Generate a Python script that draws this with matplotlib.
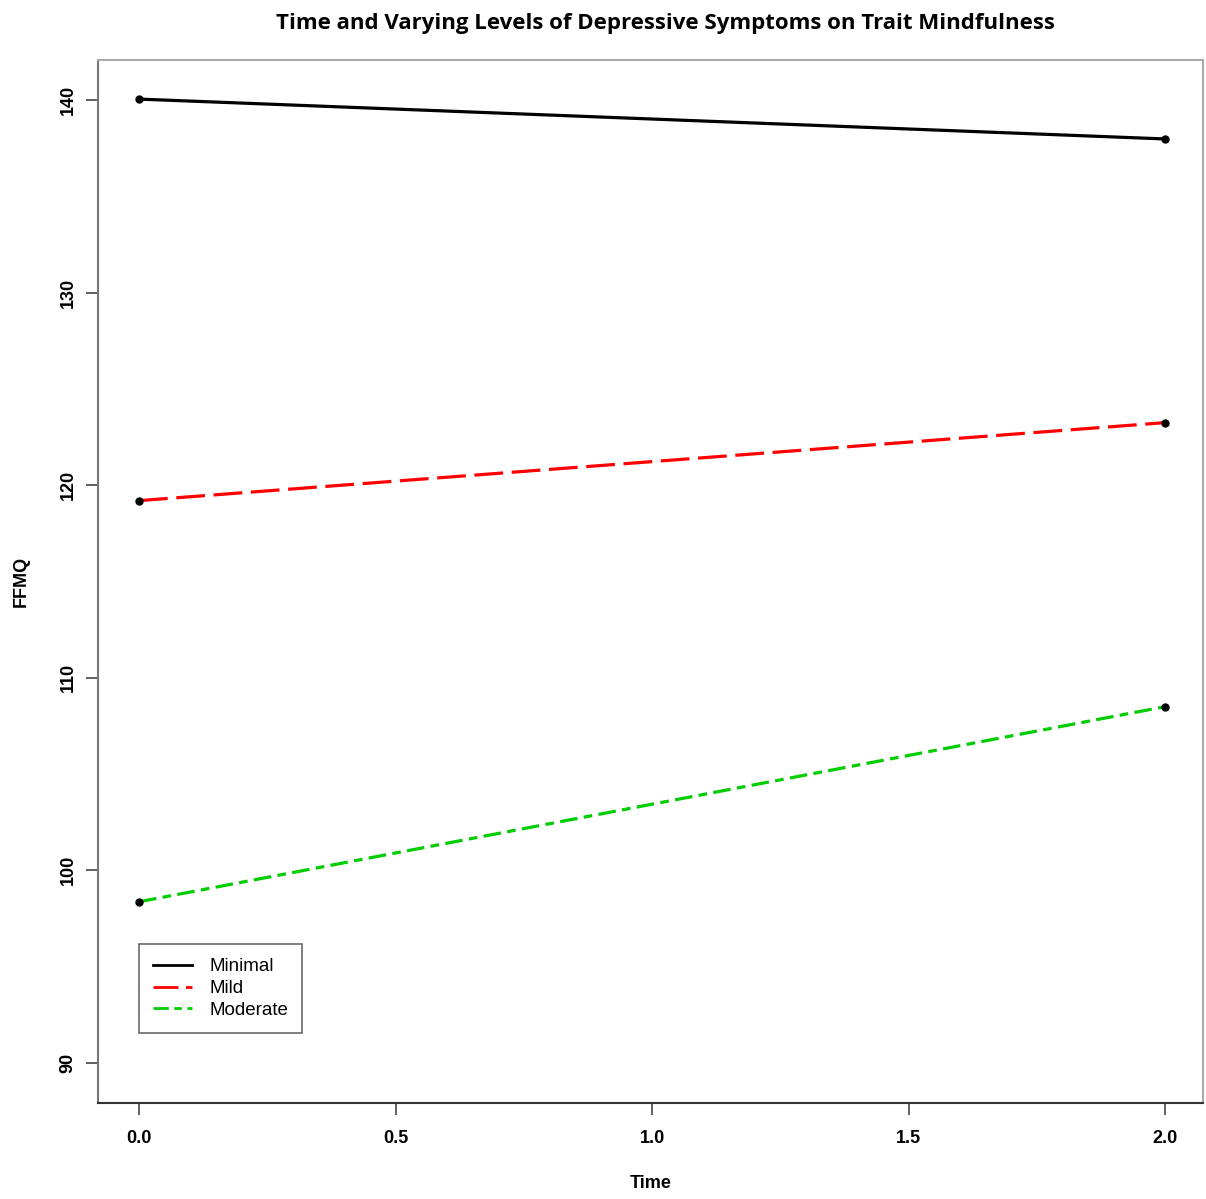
import matplotlib
matplotlib.use("Agg")
import matplotlib.pyplot as plt

time = [0, 2]
groups = ["Minimal", "Mild", "Moderate"]
ffmq = {
    "Minimal": [140.05, 137.98],
    "Mild": [119.2, 123.25],
    "Moderate": [98.37, 108.5],
}
colors = {"Minimal": "#000000", "Mild": "#ff0000", "Moderate": "#00cd00"}
styles = {"Minimal": "-", "Mild": (0, (9, 2.7)), "Moderate": (0, (5.5, 2, 2.7, 2))}
xticks = [0.0, 0.5, 1.0, 1.5, 2.0]
yticks = [90, 100, 110, 120, 130, 140]

fig = plt.figure(figsize=(12.06, 11.99), dpi=100)
ax = fig.add_axes([98/1206, 1-1103/1199, (1203-98)/1206, (1103-60)/1199])

for g in groups:
    ax.plot(time, ffmq[g], color=colors[g], linestyle=styles[g], lw=2.3, label=g)
for g in groups:
    ax.plot(time, ffmq[g], "o", color="black", ms=5, zorder=5)

ax.set_xlim(-0.08, 2.074)
ax.set_ylim(87.92, 142.08)
ax.set_xticks(xticks)
ax.set_xticklabels([f"{v:.1f}" for v in xticks])
ax.set_yticks(yticks)
ax.set_yticklabels([str(v) for v in yticks], rotation=90, va="center")
fs = 13
tickfont = dict(family="Liberation Sans", weight="bold", size=fs)
for lab in ax.get_xticklabels() + ax.get_yticklabels():
    lab.set_fontfamily("Liberation Sans")
    lab.set_fontweight("bold")
    lab.set_fontsize(fs)
ax.tick_params(axis="both", direction="out", length=8.5, width=1.2, color="#444444")
ax.tick_params(axis="x", pad=11)
ax.tick_params(axis="y", pad=7)

for side, c in [("left", "#777777"), ("top", "#aaaaaa"), ("right", "#aaaaaa"), ("bottom", "#333333")]:
    ax.spines[side].set_color(c)
    ax.spines[side].set_linewidth(1.5)

ax.set_xlabel("Time", fontdict=tickfont)
ax.set_ylabel("FFMQ", fontdict=tickfont)
ax.xaxis.set_label_coords((651 - 98) / 1105, (1103 - 1183) / 1043)
ax.yaxis.set_label_coords((21 - 98) / 1105, 0.5)
ax.xaxis.label.set_va("center")
ax.yaxis.label.set_va("center")

fig.text(665/1206, 1-23/1199, "Time and Varying Levels of Depressive Symptoms on Trait Mindfulness",
         ha="center", va="center", family="Open Sans", weight="bold", fontsize=16)

leg = ax.legend(loc="lower left", bbox_to_anchor=((139-98)/1105, (1103-1033)/1043),
                frameon=True, fancybox=False, edgecolor="#444444", borderaxespad=0,
                prop=dict(family="Liberation Sans", size=13.5), handlelength=2.1,
                handletextpad=0.9, borderpad=0.75, labelspacing=0.25)
leg.get_frame().set_linewidth(1.2)
for h in leg.get_lines():
    h.set_linewidth(2.0)

fig.savefig("out.png", dpi=100)
